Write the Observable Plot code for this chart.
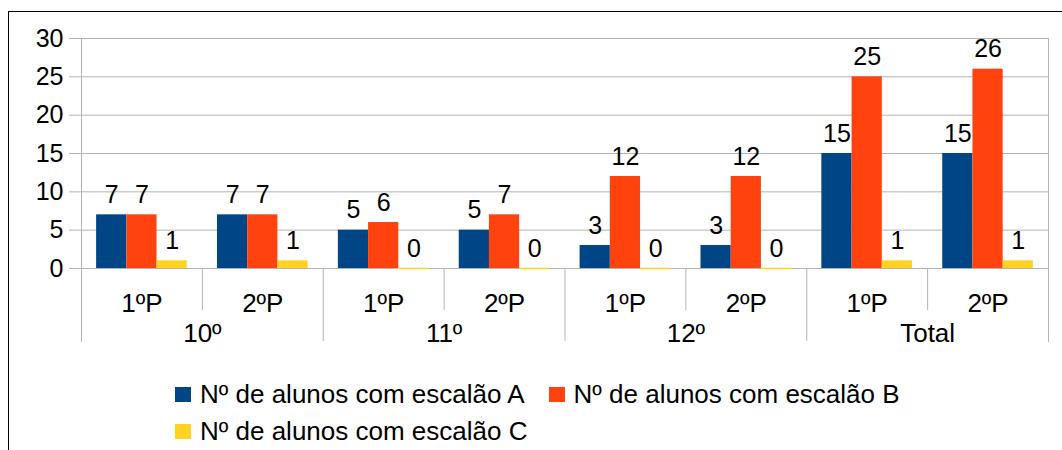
<!DOCTYPE html>
<html>
<head>
<meta charset="utf-8">
<script src="https://cdn.jsdelivr.net/npm/d3@7"></script>
<script src="https://cdn.jsdelivr.net/npm/@observablehq/plot@0.6"></script>
<style>
  html, body { margin: 0; padding: 0; background: #fff; }
  #wrap { position: relative; width: 1062px; height: 450px; overflow: hidden; font-family: "Liberation Sans", Arial, sans-serif; }
  #border { position: absolute; left: 8px; top: 11px; width: 1100px; height: 500px; border-top: 1px solid #000; border-left: 1px solid #000; box-sizing: border-box; }
  #chart { position: absolute; left: 0; top: 0; }
  #legend { position: absolute; left: 175px; top: 376px; width: 760px; display: flex; flex-wrap: wrap; row-gap: 0; column-gap: 24px; }
  .item { display: flex; align-items: center; height: 37px; font-size: 26px; color: #000; white-space: nowrap; }
  .sw { width: 16px; height: 15px; margin-right: 9px; flex: none; }
</style>
</head>
<body>
<div id="wrap">
  <div id="border"></div>
  <div id="chart"></div>
  <div id="legend"></div>
</div>
<script>
const years = ["10º", "11º", "12º", "Total"];
const periods = ["1ºP", "2ºP"];
const seriesNames = ["Nº de alunos com escalão A", "Nº de alunos com escalão B", "Nº de alunos com escalão C"];
const seriesKeys = ["A", "B", "C"];
const seriesColors = ["#004586", "#ff420e", "#ffd320"];
const escalaoA = [7, 7, 5, 5, 3, 3, 15, 15];
const escalaoB = [7, 7, 6, 7, 12, 12, 25, 26];
const escalaoC = [1, 1, 0, 0, 0, 0, 1, 1];
const yTicks = [0, 5, 10, 15, 20, 25, 30];

const W = 1062, H = 350, mT = 38, mB = 82, mL = 81, mR = 14;
const plotH = H - mT - mB;

// groups = year × period
const groups = [];
years.forEach(y => periods.forEach(p => groups.push({year: y, period: p, key: y + " " + p})));
const values = [escalaoA, escalaoB, escalaoC];

const rows = [];
groups.forEach((g, i) => seriesKeys.forEach((s, j) => rows.push({g: g.key, s: seriesNames[j], sk: s, v: values[j][i]})));

// band domain: 3 bars per group, one separator slot between groups
const domain = [];
const seps = [];
groups.forEach((g, i) => {
  seriesKeys.forEach(s => domain.push(g.key + "|" + s));
  if (i < groups.length - 1) {
    domain.push(g.key + "|sep");
    seps.push({key: g.key + "|sep", yearEnd: g.period === periods[periods.length - 1], g});
  }
});

const chart = Plot.plot({
  width: W,
  height: H,
  marginTop: mT,
  marginBottom: mB,
  marginLeft: mL,
  marginRight: mR,
  style: {fontFamily: "'Liberation Sans', Arial, sans-serif", fontSize: "25px", background: "transparent", color: "#000"},
  x: {type: "band", domain, paddingInner: 0, paddingOuter: 0.5, round: false, axis: null},
  y: {domain: [0, 30], axis: null},
  color: {domain: seriesNames, range: seriesColors},
  marks: [
    Plot.gridY(yTicks, {stroke: "#b3b3b3", strokeOpacity: 1, strokeWidth: 1}),
    Plot.axisY(yTicks, {label: null, tickSize: 12, tickPadding: 6, stroke: "#b3b3b3", strokeOpacity: 1, fontSize: 25, fill: "#000", tickFormat: d => String(d)}),
    Plot.frame({anchor: "left", stroke: "#b3b3b3", insetBottom: -73}),
    Plot.frame({anchor: "right", stroke: "#b3b3b3", insetBottom: -73}),
    Plot.ruleX(seps.filter(d => !d.yearEnd), {x: "key", stroke: "#b3b3b3", insetTop: plotH, insetBottom: -42}),
    Plot.ruleX(seps.filter(d => d.yearEnd), {x: "key", stroke: "#b3b3b3", insetTop: plotH, insetBottom: -73}),
    Plot.barY(rows, {x: d => d.g + "|" + d.sk, y: "v", fill: "s"}),
    Plot.tickY(rows.filter(d => d.v === 0), {x: d => d.g + "|" + d.sk, y: "v", stroke: "s", strokeWidth: 1.5}),
    Plot.text(rows, {x: d => d.g + "|" + d.sk, y: "v", text: d => String(d.v), lineAnchor: "bottom", dy: -12, fontSize: 25, fill: "#000"}),
    Plot.text(groups, {x: d => d.key + "|B", text: "period", frameAnchor: "bottom", lineAnchor: "middle", dy: 35, fontSize: 26, fill: "#000"}),
    Plot.text(seps.filter(d => !d.yearEnd), {x: "key", text: d => d.g.year, frameAnchor: "bottom", lineAnchor: "middle", dy: 65, fontSize: 26, fill: "#000"})
  ]
});
document.getElementById("chart").appendChild(chart);

const legend = document.getElementById("legend");
seriesNames.forEach((name, i) => {
  const item = document.createElement("div");
  item.className = "item";
  const sw = document.createElement("span");
  sw.className = "sw";
  sw.style.background = seriesColors[i];
  item.appendChild(sw);
  const t = document.createElement("span");
  t.textContent = name;
  item.appendChild(t);
  legend.appendChild(item);
});
</script>
</body>
</html>
